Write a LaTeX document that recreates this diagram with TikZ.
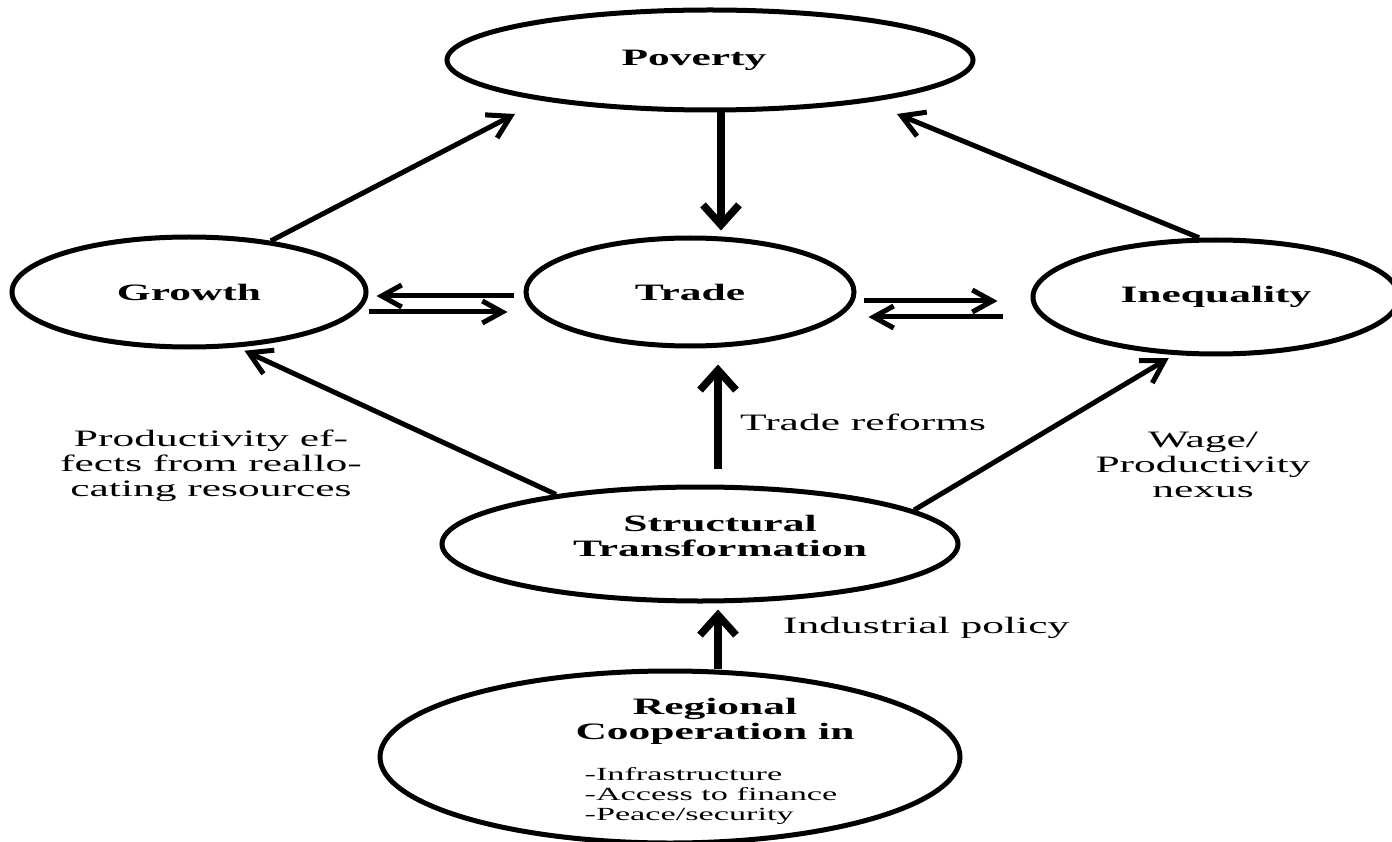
\documentclass[tikz,border=0pt]{standalone}
\usepackage{fontspec}
\setmainfont{Liberation Serif}[FakeStretch=1.85]
\usetikzlibrary{shapes.geometric,arrows.meta,calc}
\begin{document}
\begin{tikzpicture}[x=1pt,y=-1pt,
  ell/.style={draw, ellipse, line width=5pt, inner sep=0pt, font=\fontsize{23.5}{25}\selectfont\bfseries, align=center},
  lbl/.style={font=\fontsize{23.5}{25}\selectfont, inner sep=0pt, align=center},
  arr/.style={line width=5pt, -{Straight Barb[length=22pt,width=26pt]}},
  harr/.style={line width=5pt, -{Straight Barb[length=20pt,width=22pt]}},
  varr/.style={line width=7.5pt, -{Straight Barb[length=20pt,width=36pt]}},
]
\useasboundingbox (0,0) rectangle (1392,842);
\node[ell, minimum width=526pt, minimum height=100pt] (pov) at (710,60) {};
\node[font=\fontsize{23.5}{25}\selectfont\bfseries, inner sep=0pt] (povt) at (694,60) {Poverty};
\node[ell, minimum width=354pt, minimum height=110pt] (growth) at (189,292) {Growth};
\node[ell, minimum width=328pt, minimum height=108pt] (trade) at (690,292) {Trade};
\node[ell, minimum width=366pt, minimum height=114pt] (ineq) at (1216,297) {Inequality};
\node[ell, minimum width=516pt, minimum height=114pt] (st) at (700,544) {};
\node[font=\fontsize{23.5}{25}\selectfont\bfseries, align=center, inner sep=0pt] (stt) at (720,536) {Structural\\Transformation};
\node[ell, minimum width=580pt, minimum height=172pt] (rc) at (670,757) {};
\node[font=\fontsize{23.5}{25}\selectfont\bfseries, align=center, inner sep=0pt] (rct) at (715,721) {Regional\\Cooperation in};
\node[font=\fontsize{18.5}{20}\selectfont, align=left, inner sep=0pt] (rcl) at (711,796) {-Infrastructure\\-Access to finance\\-Peace/security};

\node[lbl] (lprod) at (211,466) {Productivity ef-\\fects from reallo-\\cating resources};
\node[lbl, anchor=base west] (lref) at (740,430) {Trade reforms};
\node[lbl] (lwage) at (1203,465) {Wage/\\Productivity\\nexus};
\node[lbl, anchor=base west] (lind) at (783,633) {Industrial policy};

\coordinate (pl) at ($(pov.center)+(-195,54)$);
\coordinate (pr) at ($(pov.center)+(187,54)$);
\draw[arr] (growth.32) -- (pl);
\draw[arr] (ineq.106) -- (pr);
\coordinate (p1) at ($(pov.south)+(11,0)$);
\draw[varr, shorten >=5pt] (p1) -- (p1 |- trade.north);
\coordinate (s1) at ($(st.north)+(18,0)$);
\draw[varr, shorten <=16pt, shorten >=16pt] (s1) -- (s1 |- trade.south);
\coordinate (r1) at ($(rc.north)+(48,0)$);
\draw[varr, shorten >=6pt] (r1) -- (r1 |- st.south);
\draw[arr, shorten >=8pt] (st.161) -- (growth.-49);
\draw[arr, shorten >=6pt] (st.9) -- (ineq.-126);

\draw[harr] ($(trade.west)+(-10,4)$) -- ($(growth.east)+(8,4)$);
\draw[harr] ($(growth.east)+(0,20)$) -- ($(trade.west)+(-16,20)$);
\draw[harr] ($(trade.east)+(7,9)$) -- ($(ineq.west)+(-33,4)$);
\draw[harr] ($(ineq.west)+(-28,20)$) -- ($(trade.east)+(12,25)$);
\end{tikzpicture}
\end{document}
